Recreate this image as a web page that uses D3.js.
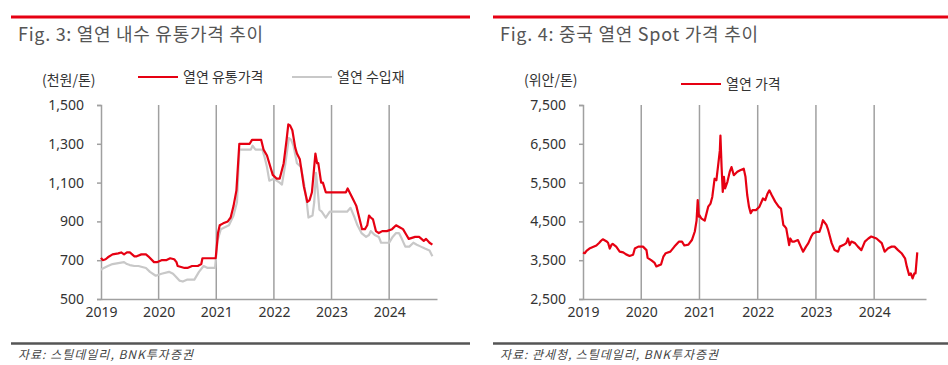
<!DOCTYPE html>
<html>
<head>
<meta charset="utf-8">
<script src="https://cdn.jsdelivr.net/npm/d3@7"></script>
<style>
  body { margin: 0; background: #fff; }
  svg { display: block; font-family: "Noto Sans CJK KR", "Noto Sans", sans-serif; }
</style>
</head>
<body>
<svg id="chart" width="948" height="365"></svg>
<script>
// Fig.3 열연 내수 유통가격 (천원/톤) - decimal year, value
var domesticX = [2019.0,2019.03,2019.08,2019.12,2019.2,2019.3,2019.35,2019.4,2019.45,2019.5,2019.58,2019.62,2019.7,2019.78,2019.82,2019.92,2019.97,2020.05,2020.13,2020.2,2020.27,2020.31,2020.33,2020.45,2020.5,2020.58,2020.68,2020.74,2020.76,2020.96,2020.99,2021.03,2021.06,2021.12,2021.2,2021.25,2021.3,2021.35,2021.4,2021.58,2021.62,2021.78,2021.82,2021.88,2021.92,2021.98,2022.05,2022.1,2022.17,2022.22,2022.25,2022.28,2022.32,2022.37,2022.4,2022.45,2022.52,2022.58,2022.62,2022.66,2022.72,2022.75,2022.77,2022.82,2022.85,2022.9,2022.93,2023.0,2023.25,2023.28,2023.33,2023.38,2023.43,2023.48,2023.53,2023.58,2023.62,2023.65,2023.68,2023.72,2023.77,2023.82,2023.88,2023.96,2024.05,2024.12,2024.18,2024.24,2024.3,2024.34,2024.45,2024.52,2024.6,2024.64,2024.7,2024.75];
var domesticY = [712,700,705,715,730,735,740,730,740,740,720,720,730,730,720,690,690,700,700,710,705,690,670,660,660,670,670,680,710,710,710,840,880,890,900,920,980,1060,1300,1300,1320,1320,1270,1240,1200,1140,1120,1120,1200,1320,1400,1395,1370,1280,1250,1220,1080,1000,1010,1050,1250,1200,1200,1100,1100,1050,1050,1050,1050,1070,1040,1010,980,920,860,860,880,930,920,910,850,840,850,850,860,880,870,860,830,810,820,820,800,810,790,780];

// 열연 수입재
var importX = [2019.0,2019.05,2019.12,2019.2,2019.3,2019.4,2019.45,2019.5,2019.58,2019.65,2019.78,2019.85,2019.95,2020.05,2020.18,2020.25,2020.3,2020.36,2020.42,2020.5,2020.62,2020.7,2020.78,2020.85,2020.98,2021.02,2021.08,2021.15,2021.22,2021.3,2021.36,2021.4,2021.6,2021.63,2021.68,2021.8,2021.84,2021.88,2021.92,2022.0,2022.1,2022.14,2022.2,2022.26,2022.3,2022.34,2022.4,2022.47,2022.52,2022.57,2022.6,2022.67,2022.7,2022.73,2022.76,2022.79,2022.83,2022.9,2022.97,2023.27,2023.33,2023.4,2023.45,2023.52,2023.6,2023.65,2023.68,2023.75,2023.82,2023.86,2024.0,2024.06,2024.12,2024.17,2024.22,2024.28,2024.35,2024.42,2024.48,2024.55,2024.62,2024.7,2024.75];
var importY = [650,660,670,680,685,690,680,675,670,670,660,640,620,630,640,630,615,595,590,600,600,640,670,660,660,800,860,870,880,930,1000,1270,1270,1290,1270,1270,1230,1180,1110,1120,1100,1090,1200,1330,1320,1290,1200,1180,1100,1000,920,930,1000,1150,1060,960,950,920,950,950,970,920,880,840,820,830,850,830,820,790,790,820,840,840,810,770,770,790,780,770,760,750,720];

// Fig.4 중국 열연 Spot 가격 (위안/톤)
var spotX = [2019.0,2019.03,2019.06,2019.11,2019.17,2019.23,2019.28,2019.31,2019.34,2019.4,2019.43,2019.46,2019.49,2019.51,2019.57,2019.63,2019.69,2019.74,2019.8,2019.86,2019.89,2019.95,2020.03,2020.09,2020.11,2020.17,2020.23,2020.26,2020.29,2020.34,2020.38,2020.42,2020.5,2020.57,2020.65,2020.7,2020.74,2020.81,2020.87,2020.92,2020.95,2020.97,2020.99,2021.0,2021.03,2021.09,2021.15,2021.19,2021.22,2021.26,2021.29,2021.32,2021.35,2021.36,2021.38,2021.4,2021.42,2021.44,2021.48,2021.52,2021.55,2021.59,2021.65,2021.7,2021.76,2021.79,2021.82,2021.85,2021.88,2021.91,2021.97,2022.03,2022.09,2022.13,2022.17,2022.2,2022.24,2022.3,2022.36,2022.4,2022.44,2022.47,2022.49,2022.54,2022.56,2022.59,2022.63,2022.69,2022.74,2022.78,2022.83,2022.87,2022.92,2022.95,2023.01,2023.06,2023.09,2023.12,2023.18,2023.21,2023.27,2023.32,2023.38,2023.41,2023.47,2023.52,2023.55,2023.58,2023.61,2023.67,2023.72,2023.78,2023.84,2023.9,2023.95,2024.04,2024.13,2024.18,2024.24,2024.3,2024.35,2024.41,2024.47,2024.53,2024.56,2024.6,2024.63,2024.66,2024.69,2024.71,2024.74,2024.76];
var spotY = [3700,3680,3740,3800,3840,3880,3950,4000,4040,3990,3950,3800,3900,3920,3850,3720,3700,3650,3610,3640,3800,3850,3850,3760,3560,3500,3430,3340,3360,3390,3590,3680,3720,3850,3980,3980,3880,3900,4020,4240,4520,5050,4620,4660,4580,4520,4880,4960,5130,5600,5560,5940,6330,6710,5900,5260,5650,5350,5520,5780,5900,5690,5780,5820,5860,5650,5180,4880,4710,4790,4790,4880,5090,5050,5220,5300,5180,5010,4880,4830,4410,4360,4320,3890,4060,3980,3980,4020,3850,3720,3850,3940,4110,4190,4230,4230,4360,4530,4410,4280,3940,3760,3720,3850,3890,3940,4060,3890,3980,3940,3850,3760,3980,4060,4110,4060,3940,3720,3810,3850,3850,3760,3680,3550,3340,3120,3160,3030,3160,3160,3700];

var yearTicks = [2019,2020,2021,2022,2023,2024];
var leftTicks = [500,700,900,1100,1300,1500];
var rightTicks = [2500,3500,4500,5500,6500,7500];

var svg = d3.select("#chart");
var txtCol = "#333", gridCol = "#a0a0a0";

function zip(xs, ys) { return xs.map(function(x, i) { return {x: x, y: ys[i]}; }); }

function panel(opt) {
  var g = svg.append("g");
  // top red rule
  g.append("line").attr("x1", opt.left).attr("x2", opt.right).attr("y1", 17).attr("y2", 17)
    .attr("stroke", "#e60012").attr("stroke-width", 3);
  g.append("text").attr("x", opt.left + 7).attr("y", 41).attr("font-size", 18)
    .attr("fill", "#555").attr("textLength", opt.titleLen).text(opt.title);
  // bottom rule + source
  g.append("line").attr("x1", opt.left).attr("x2", opt.right).attr("y1", 343.5).attr("y2", 343.5)
    .attr("stroke", "#555").attr("stroke-width", 2.5);
  g.append("text").attr("x", opt.left + 7).attr("y", 359).attr("font-size", 12).attr("font-style", "italic")
    .attr("fill", "#444").attr("textLength", opt.srcLen).text(opt.source);

  var x = d3.scaleLinear().domain([2019, opt.xEnd]).range([opt.x0, opt.x1]);
  var y = d3.scaleLinear().domain(opt.yDomain).range([299, 105]);

  // vertical year grid
  g.selectAll(".grid").data(yearTicks.slice(1)).enter().append("line")
    .attr("x1", function(d) { return x(d); }).attr("x2", function(d) { return x(d); })
    .attr("y1", 105).attr("y2", 299).attr("stroke", gridCol).attr("stroke-width", 1.5);

  var yAxis = g.append("g").attr("transform", "translate(" + opt.x0 + ",0)")
    .call(d3.axisLeft(y).tickValues(opt.yTicks).tickSize(4).tickFormat(d3.format(",")));
  yAxis.select(".domain").attr("stroke", gridCol).attr("stroke-width", 1.5);
  yAxis.selectAll(".tick line").attr("stroke", gridCol).attr("stroke-width", 1.5);
  yAxis.selectAll("text").attr("font-size", 14).attr("fill", txtCol).attr("x", -17)
    .attr("font-family", "Noto Sans, sans-serif");

  var xAxis = g.append("g").attr("transform", "translate(0,299)")
    .call(d3.axisBottom(x).tickValues(yearTicks).tickSize(0).tickFormat(d3.format("d")));
  xAxis.select(".domain").attr("stroke", gridCol).attr("stroke-width", 1.5);
  xAxis.selectAll("text").attr("font-size", 14).attr("fill", txtCol).attr("dy", "1.1em")
    .attr("font-family", "Noto Sans, sans-serif");

  var line = d3.line().x(function(d) { return x(d.x); }).y(function(d) { return y(d.y); });
  opt.series.forEach(function(s) {
    g.append("path").datum(s.data).attr("fill", "none").attr("stroke", s.color)
      .attr("stroke-width", 2.2).attr("stroke-linejoin", "round").attr("d", line);
  });

  g.append("text").attr("x", opt.unitX).attr("y", 85).attr("font-size", 14).attr("fill", txtCol).text(opt.unit);
  opt.series.slice().reverse().forEach(function(s) {
    g.append("line").attr("x1", s.lx).attr("x2", s.lx + 40).attr("y1", s.ly).attr("y2", s.ly)
      .attr("stroke", s.color).attr("stroke-width", 2.2);
    g.append("text").attr("x", s.lx + 45).attr("y", s.ly + 5).attr("font-size", 14).attr("fill", txtCol).text(s.name);
  });
}

panel({
  left: 11, right: 470, title: "Fig. 3: 열연 내수 유통가격 추이", titleLen: 245,
  source: "자료: 스틸데일리, BNK투자증권", srcLen: 175,
  x0: 101, x1: 437, xEnd: 2024.83, yDomain: [500, 1500], yTicks: leftTicks,
  unit: "(천원/톤)", unitX: 42,
  series: [
    {name: "열연 수입재", color: "#c8c8c8", data: zip(importX, importY), lx: 292, ly: 77},
    {name: "열연 유통가격", color: "#e60012", data: zip(domesticX, domesticY), lx: 138, ly: 77}
  ]
});

panel({
  left: 493, right: 948, title: "Fig. 4: 중국 열연 Spot 가격 추이", titleLen: 258,
  source: "자료: 관세청, 스틸데일리, BNK투자증권", srcLen: 218,
  x0: 583, x1: 926, xEnd: 2024.89, yDomain: [2500, 7500], yTicks: rightTicks,
  unit: "(위안/톤)", unitX: 524,
  series: [
    {name: "열연 가격", color: "#e60012", data: zip(spotX, spotY), lx: 681, ly: 84}
  ]
});
</script>
</body>
</html>
